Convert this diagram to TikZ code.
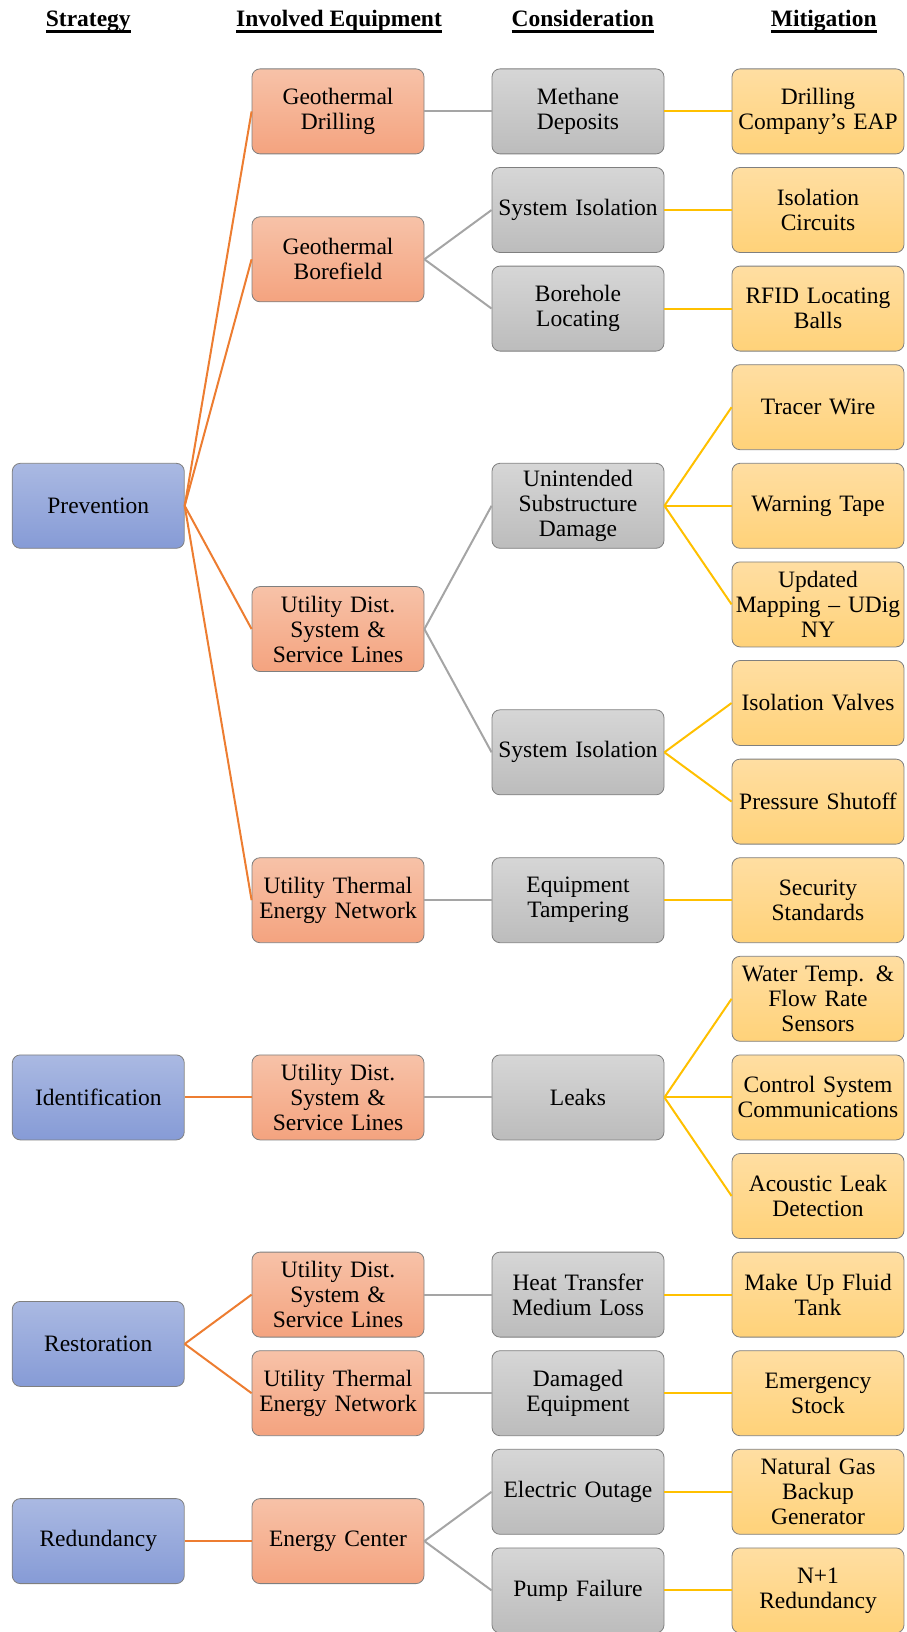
\documentclass[tikz,border=0pt]{standalone}
\usepackage{fontspec}
\setmainfont{Liberation Serif}
\definecolor{boxedge}{HTML}{7F7F7F}
\definecolor{stratTop}{HTML}{AAB9E2}
\definecolor{stratBot}{HTML}{869BD6}
\definecolor{equipTop}{HTML}{F7C2A8}
\definecolor{equipBot}{HTML}{F4A37F}
\definecolor{considTop}{HTML}{D6D6D6}
\definecolor{considBot}{HTML}{BCBCBC}
\definecolor{mitiTop}{HTML}{FFDEA2}
\definecolor{mitiBot}{HTML}{FFD279}
\definecolor{stratline}{HTML}{ED7D31}
\definecolor{equipline}{HTML}{A5A5A5}
\definecolor{considline}{HTML}{FFC000}
% heading with a heavy underline
\newcommand{\colhead}[1]{\setbox0\hbox{#1}\rlap{\rule[-6pt]{\wd0}{3pt}}\box0}

\begin{document}
\begin{tikzpicture}[x=1pt, y=-1pt,
    box/.style={rectangle, draw=boxedge, line width=0.8pt, rounded corners=8pt,
        minimum width=172pt, minimum height=85pt, text width=166pt, inner sep=3pt,
        align=center, font=\fontsize{23.5}{25}\selectfont},
    stratbox/.style={box, top color=stratTop, bottom color=stratBot},
    equipbox/.style={box, top color=equipTop, bottom color=equipBot},
    considbox/.style={box, top color=considTop, bottom color=considBot},
    mitibox/.style={box, top color=mitiTop, bottom color=mitiBot},
    head/.style={anchor=base, inner sep=0pt, font=\fontsize{23.5}{25}\selectfont\bfseries},
    link/.style={line width=2pt}]
    \useasboundingbox (0,0) rectangle (906,1632);

    % Column headings
    \node[head] (hstrat) at (88.3,26.7) {\colhead{Strategy}};
    \node[head] (hequip) at (339,26.7) {\colhead{Involved Equipment}};
    \node[head] (hconsid) at (582.7,26.7) {\colhead{Consideration}};
    \node[head] (hmiti) at (823.7,26.7) {\colhead{Mitigation}};

    % Strategy
    \node[stratbox] (prevention) at (98.3,505.8) {Prevention};
    \node[stratbox] (identification) at (98.3,1097.4) {Identification};
    \node[stratbox] (restoration) at (98.3,1343.9) {Restoration};
    \node[stratbox] (redundancy) at (98.3,1541.1) {Redundancy};

    % Involved equipment
    \node[equipbox] (drilling) at (338,111.4) {Geothermal\\Drilling};
    \node[equipbox] (borefield) at (338,259.3) {Geothermal\\Borefield};
    \node[equipbox] (distprev) at (338,629.05) {Utility Dist.\\System \&\\Service Lines};
    \node[equipbox] (thermprev) at (338,900.2) {Utility Thermal\\Energy Network};
    \node[equipbox] (distident) at (338,1097.4) {Utility Dist.\\System \&\\Service Lines};
    \node[equipbox] (distrest) at (338,1294.6) {Utility Dist.\\System \&\\Service Lines};
    \node[equipbox] (thermrest) at (338,1393.2) {Utility Thermal\\Energy Network};
    \node[equipbox] (energycenter) at (338,1541.1) {Energy Center};

    % Consideration
    \node[considbox] (methane) at (578,111.4) {Methane\\Deposits};
    \node[considbox] (isolbore) at (578,210.0) {System Isolation};
    \node[considbox] (locating) at (578,308.6) {Borehole\\Locating};
    \node[considbox] (damage) at (578,505.8) {Unintended\\Substructure\\Damage};
    \node[considbox] (isoldist) at (578,752.3) {System Isolation};
    \node[considbox] (tampering) at (578,900.2) {Equipment\\Tampering};
    \node[considbox] (leaks) at (578,1097.4) {Leaks};
    \node[considbox] (fluidloss) at (578,1294.6) {Heat Transfer\\Medium Loss};
    \node[considbox] (damaged) at (578,1393.2) {Damaged\\Equipment};
    \node[considbox] (outage) at (578,1491.8) {Electric Outage};
    \node[considbox] (pumpfail) at (578,1590.4) {Pump Failure};

    % Mitigation
    \node[mitibox] (eap) at (818,111.4) {Drilling\\Company’s EAP};
    \node[mitibox] (circuits) at (818,210.0) {Isolation\\Circuits};
    \node[mitibox] (rfid) at (818,308.6) {RFID Locating\\Balls};
    \node[mitibox] (tracer) at (818,407.2) {Tracer Wire};
    \node[mitibox] (tape) at (818,505.8) {Warning Tape};
    \node[mitibox] (mapping) at (818,604.4) {Updated\\Mapping – UDig\\NY};
    \node[mitibox] (valves) at (818,703.0) {Isolation Valves};
    \node[mitibox] (shutoff) at (818,801.6) {Pressure Shutoff};
    \node[mitibox] (security) at (818,900.2) {Security\\Standards};
    \node[mitibox] (sensors) at (818,998.8) {Water Temp. \&\\Flow Rate\\Sensors};
    \node[mitibox] (comms) at (818,1097.4) {Control System\\Communications};
    \node[mitibox] (acoustic) at (818,1196.0) {Acoustic Leak\\Detection};
    \node[mitibox] (makeup) at (818,1294.6) {Make Up Fluid\\Tank};
    \node[mitibox] (stock) at (818,1393.2) {Emergency\\Stock};
    \node[mitibox] (generator) at (818,1491.8) {Natural Gas\\Backup\\Generator};
    \node[mitibox] (nplus) at (818,1590.4) {N+1\\Redundancy};

    % Strategy to equipment
    \draw[link, stratline] (prevention.east) -- (drilling.west);
    \draw[link, stratline] (prevention.east) -- (borefield.west);
    \draw[link, stratline] (prevention.east) -- (distprev.west);
    \draw[link, stratline] (prevention.east) -- (thermprev.west);
    \draw[link, stratline] (identification.east) -- (distident.west);
    \draw[link, stratline] (restoration.east) -- (distrest.west);
    \draw[link, stratline] (restoration.east) -- (thermrest.west);
    \draw[link, stratline] (redundancy.east) -- (energycenter.west);

    % Equipment to consideration
    \draw[link, equipline] (drilling.east) -- (methane.west);
    \draw[link, equipline] (borefield.east) -- (isolbore.west);
    \draw[link, equipline] (borefield.east) -- (locating.west);
    \draw[link, equipline] (distprev.east) -- (damage.west);
    \draw[link, equipline] (distprev.east) -- (isoldist.west);
    \draw[link, equipline] (thermprev.east) -- (tampering.west);
    \draw[link, equipline] (distident.east) -- (leaks.west);
    \draw[link, equipline] (distrest.east) -- (fluidloss.west);
    \draw[link, equipline] (thermrest.east) -- (damaged.west);
    \draw[link, equipline] (energycenter.east) -- (outage.west);
    \draw[link, equipline] (energycenter.east) -- (pumpfail.west);

    % Consideration to mitigation
    \draw[link, considline] (methane.east) -- (eap.west);
    \draw[link, considline] (isolbore.east) -- (circuits.west);
    \draw[link, considline] (locating.east) -- (rfid.west);
    \draw[link, considline] (damage.east) -- (tracer.west);
    \draw[link, considline] (damage.east) -- (tape.west);
    \draw[link, considline] (damage.east) -- (mapping.west);
    \draw[link, considline] (isoldist.east) -- (valves.west);
    \draw[link, considline] (isoldist.east) -- (shutoff.west);
    \draw[link, considline] (tampering.east) -- (security.west);
    \draw[link, considline] (leaks.east) -- (sensors.west);
    \draw[link, considline] (leaks.east) -- (comms.west);
    \draw[link, considline] (leaks.east) -- (acoustic.west);
    \draw[link, considline] (fluidloss.east) -- (makeup.west);
    \draw[link, considline] (damaged.east) -- (stock.west);
    \draw[link, considline] (outage.east) -- (generator.west);
    \draw[link, considline] (pumpfail.east) -- (nplus.west);
\end{tikzpicture}
\end{document}
